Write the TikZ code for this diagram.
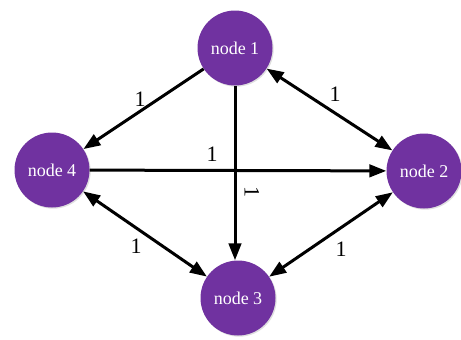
\documentclass[tikz,border=0pt]{standalone}
\usepackage{fontspec}
\setmainfont{Liberation Serif}
\newfontfamily\nodeserif{Liberation Serif}
\usetikzlibrary{arrows.meta,shadows}
\definecolor{nodepurple}{RGB}{112,50,160}
\tikzset{
  tip/.tip={Triangle[length=17pt,width=12.5pt]},
  gnode/.style={circle, fill=nodepurple, draw=none, minimum size=75pt, inner sep=0pt,
    text=white, font=\nodeserif\fontsize{18}{18}\selectfont,
    drop shadow={opacity=0.25, shadow xshift=1.2pt, shadow yshift=-1.2pt}},
  edge/.style={line width=3pt, black, -tip},
  bedge/.style={line width=3pt, black, tip-tip},
  elabel/.style={font=\nodeserif\fontsize{22}{22}\selectfont, inner sep=0pt}
}
\begin{document}
\begin{tikzpicture}[x=1pt,y=-1pt]
\useasboundingbox (0,0) rectangle (461,340);
\node[gnode] (n1) at (235,48) {node 1};
\node[gnode] (n2) at (424,171) {node 2};
\node[gnode] (n3) at (238,298) {node 3};
\node[gnode] (n4) at (52,170) {node 4};
\draw[edge] (n1) -- (n4);
\draw[bedge] (n1) -- (n2);
\draw[edge] (n1.south -| 235,0) -- (n3.north -| 235,0);
\draw[edge] (n4) -- (n2);
\draw[bedge] (n4) -- (n3);
\draw[bedge] (n2) -- (n3);
\node[elabel] (l14) at (140,99) {1};
\node[elabel] (l12) at (335,94) {1};
\node[elabel] (l42) at (212,154) {1};
\node[elabel, rotate=-90] (l13) at (252,192) {1};
\node[elabel] (l43) at (136,246) {1};
\node[elabel] (l23) at (341,249) {1};
\end{tikzpicture}
\end{document}
